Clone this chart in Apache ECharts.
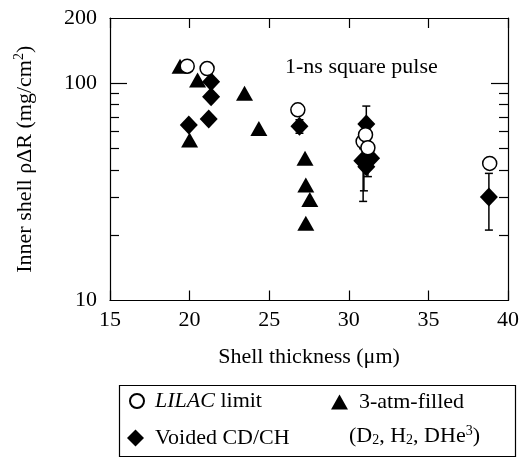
<!DOCTYPE html>
<html lang="en">
<head>
<meta charset="UTF-8">
<title>Inner shell rhoR vs shell thickness</title>
<script src="https://cdn.jsdelivr.net/npm/echarts@6/dist/echarts.min.js"></script>
<style>
    body { margin: 0; background: #fff; }
    #chart { width: 522px; height: 458px; }
</style>
</head>
<body>
<div id="chart"></div>
<script>
    // tick values
    var yLabelValues = [10, 100, 200];
    var yMajorTicks = [100];
    var yMinorTicks = [20, 30, 40, 50, 60, 70, 80, 90];

    // LILAC limit (open circles)
    var lilacX = [19.85, 21.1, 26.8, 30.9, 31.05, 31.2, 38.85];
    var lilacY = [120, 117, 75.5, 54, 58, 50.5, 42.8];

    // voided CD/CH (diamonds)
    var voidedX = [19.95, 21.35, 21.35, 21.2, 26.9, 31.1, 30.85, 31.4, 31.1, 38.8];
    var voidedY = [64.3, 101.8, 86.8, 68.5, 63.5, 65, 44, 45.2, 41.3, 30];

    // 3-atm-filled (triangles)
    var filledX = [19.4, 20.5, 20.0, 23.45, 24.35, 27.25, 27.3, 27.55, 27.3];
    var filledY = [120, 103.6, 54.8, 90, 62, 45.2, 34, 29.2, 22.7];

    // error bars
    var errX = [26.9, 31.1, 30.9, 30.95, 31.2, 38.8];
    var errLow = [58.9, 55, 28.6, 32, 37.2, 21.1];
    var errHigh = [68, 78.6, 50, 50, 45, 38.5];

    var FONT = 'Liberation Serif';
    var black = '#000';

    function pairs(xs, ys) {
        var out = [];
        for (var i = 0; i < xs.length; i++) out.push([xs[i], ys[i]]);
        return out;
    }
    var errData = [];
    for (var i = 0; i < errX.length; i++) errData.push([errX[i], errLow[i], errHigh[i]]);

    function yAxisOf(pos, ticks, len, showLine, showLabel) {
        return {
            type: 'log', logBase: 10, min: 10, max: 200, position: pos,
            axisLine: {show: showLine, lineStyle: {color: black, width: 1.2}},
            axisTick: {show: true, inside: true, length: len, customValues: ticks,
                lineStyle: {color: black, width: 1.2}},
            axisLabel: {show: showLabel, customValues: yLabelValues, color: black,
                fontFamily: FONT, fontSize: 22, margin: 13},
            splitLine: {show: false}, minorTick: {show: false}
        };
    }

    function legendOf(name, left, top, w, h) {
        return {
            data: [name], left: left, top: top, padding: 0,
            itemWidth: w, itemHeight: h,
            selectedMode: false,
            formatter: function (n) {
                return n === 'LILAC limit' ? '{i|LILAC} limit' : n;
            },
            textStyle: {
                fontFamily: FONT, fontSize: 22, color: black, lineHeight: 24, padding: [0, 0, 0, 6],
                rich: {i: {fontFamily: FONT, fontSize: 22, fontStyle: 'italic', color: black}}
            }
        };
    }

    var chart = echarts.init(document.getElementById('chart'));

    var yLeft = yAxisOf('left', yMajorTicks, 17, true, true);
    yLeft.name = 'Inner shell ρΔR (mg/cm{sup|2})';
    yLeft.nameLocation = 'middle';
    yLeft.nameGap = 72;
    yLeft.nameTextStyle = {
        fontFamily: FONT, fontSize: 22, color: black,
        rich: {sup: {fontFamily: FONT, fontSize: 14, color: black, padding: [0, 0, 12, 0]}}
    };

    var option = {
        animation: false,
        backgroundColor: '#fff',
        title: {
            text: '1-ns square pulse', left: 280, top: 51,
            textStyle: {fontFamily: FONT, fontSize: 22, fontWeight: 'normal', color: black}
        },
        grid: {left: 110, right: 10, top: 18, bottom: 157.5, containLabel: false},
        xAxis: [{
            type: 'value', min: 15, max: 40, interval: 5, position: 'bottom',
            axisLine: {lineStyle: {color: black, width: 1.2}},
            axisTick: {inside: true, length: 10, lineStyle: {color: black, width: 1.2}},
            axisLabel: {color: black, fontFamily: FONT, fontSize: 22, margin: 9},
            splitLine: {show: false},
            name: 'Shell thickness (μm)', nameLocation: 'middle', nameGap: 46,
            nameTextStyle: {fontFamily: FONT, fontSize: 22, color: black}
        }, {
            type: 'value', min: 15, max: 40, interval: 5, position: 'top',
            axisLine: {lineStyle: {color: black, width: 1.2}},
            axisTick: {inside: true, length: 10, lineStyle: {color: black, width: 1.2}},
            axisLabel: {show: false},
            splitLine: {show: false}
        }],
        yAxis: [
            yLeft,
            yAxisOf('left', yMinorTicks, 9, false, false),
            yAxisOf('right', yMajorTicks, 17, true, false),
            yAxisOf('right', yMinorTicks, 9, false, false)
        ],
        legend: [
            legendOf('LILAC limit', 129, 389, 14, 14),
            legendOf('Voided CD/CH', 127, 426, 17, 17),
            legendOf('3-atm-filled', 331, 390, 17, 15)
        ],
        graphic: [{
            type: 'rect', left: 117, top: 383,
            shape: {width: 396, height: 71},
            style: {fill: 'none', stroke: black, lineWidth: 1.2}
        }, {
            type: 'text', left: 349, top: 424,
            style: {
                text: '(D{sub|2}, H{sub|2}, DHe{sup|3})',
                font: '22px "Liberation Serif"', fill: black,
                rich: {
                    sub: {fontFamily: FONT, fontSize: 14, fill: black, padding: [8, 0, 0, 0]},
                    sup: {fontFamily: FONT, fontSize: 14, fill: black, padding: [0, 0, 10, 0]}
                }
            }
        }],
        series: [{
            name: 'errors', type: 'custom', xAxisIndex: 0, yAxisIndex: 0,
            data: errData, encode: {x: 0, y: [1, 2]}, z: 1,
            renderItem: function (params, api) {
                var x = api.value(0);
                var lo = api.coord([x, api.value(1)]);
                var hi = api.coord([x, api.value(2)]);
                var w = 4;
                var st = {stroke: black, lineWidth: 1.5};
                return {
                    type: 'group', children: [
                        {type: 'line', shape: {x1: lo[0], y1: lo[1], x2: hi[0], y2: hi[1]}, style: st},
                        {type: 'line', shape: {x1: lo[0] - w, y1: lo[1], x2: lo[0] + w, y2: lo[1]}, style: st},
                        {type: 'line', shape: {x1: hi[0] - w, y1: hi[1], x2: hi[0] + w, y2: hi[1]}, style: st}
                    ]
                };
            }
        }, {
            name: '3-atm-filled', type: 'scatter', data: pairs(filledX, filledY),
            symbol: 'triangle', symbolSize: [17, 15], z: 2,
            itemStyle: {color: black, opacity: 1}
        }, {
            name: 'Voided CD/CH', type: 'scatter', data: pairs(voidedX, voidedY),
            symbol: 'diamond', symbolSize: [18, 19], z: 3,
            itemStyle: {color: black, opacity: 1}
        }, {
            name: 'LILAC limit', type: 'scatter', data: pairs(lilacX, lilacY),
            symbol: 'circle', symbolSize: 14, z: 4,
            itemStyle: {color: '#fff', borderColor: black, borderWidth: 1.5, opacity: 1}
        }]
    };
    chart.setOption(option);
</script>
</body>
</html>
